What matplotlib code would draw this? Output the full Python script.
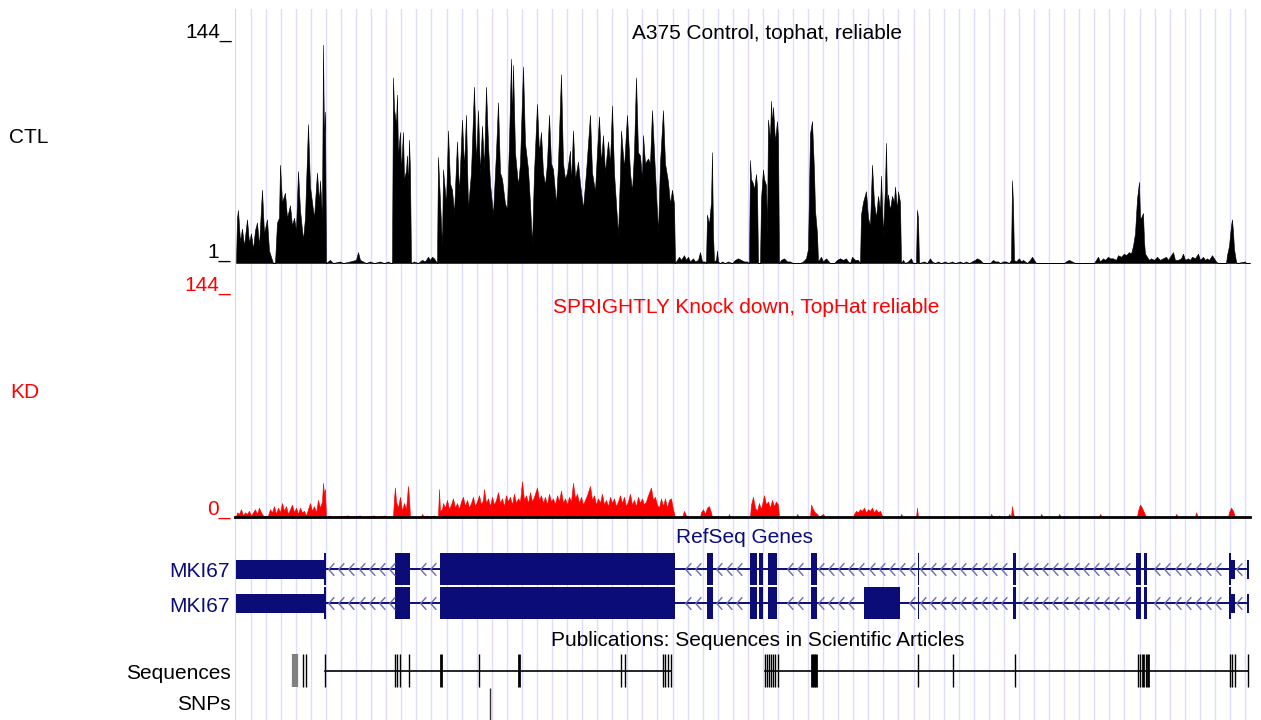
import numpy as np
import matplotlib

matplotlib.use("Agg")
import matplotlib.pyplot as plt
from matplotlib.path import Path

plt.rcParams['font.family'] = ['Liberation Sans', 'DejaVu Sans']

# --- coverage, CTL (position, reads) ---
ctl_pts = [
    (236, 1), (237, 30), (238, 35), (240, 15), (242, 23), (244, 12), (247, 29), (249, 14),
    (251, 20), (253, 10), (255, 22), (257, 27), (259, 12), (262, 48), (264, 20), (267, 29),
    (269, 9), (271, 5), (273, 1), (275, 1), (277, 27), (279, 30), (280, 64), (282, 40),
    (285, 46), (287, 30), (290, 38), (292, 25), (294, 30), (296, 22), (298, 60), (300, 35),
    (303, 16), (305, 30), (307, 70), (308, 90), (310, 50), (312, 40), (314, 30), (317, 59),
    (319, 40), (320, 54), (322, 30), (323, 141), (324, 80), (325, 98), (326, 1),
    (330, 3), (333, 1), (340, 2), (343, 1), (350, 2), (356, 3), (358, 8), (360, 3), (363, 2),
    (366, 1), (370, 2), (374, 1), (380, 2), (384, 1), (388, 2), (391, 1),
    (392, 1), (393, 120), (394, 100), (396, 90), (397, 109), (398, 70), (400, 85), (401, 60),
    (403, 85), (404, 55), (406, 60), (407, 70), (408, 50), (409, 80), (410, 60), (411, 1),
    (414, 2), (418, 1), (422, 3), (425, 2), (428, 5), (430, 3), (432, 5), (434, 4), (436, 2),
    (437, 1),
    (438, 69), (442, 12), (443, 61), (446, 39), (448, 86), (450, 52), (452, 48), (454, 33),
    (457, 79), (459, 46), (462, 93), (464, 62), (466, 96), (468, 36), (471, 59), (474, 114),
    (476, 65), (478, 99), (480, 59), (482, 89), (484, 62), (486, 114), (488, 77), (490, 52),
    (493, 32), (496, 72), (498, 104), (500, 59), (502, 55), (505, 39), (507, 36), (509, 78),
    (511, 132), (512, 91), (513, 128), (515, 72), (518, 51), (520, 65), (523, 127), (525, 78),
    (528, 61), (530, 39), (532, 13), (534, 59), (537, 103), (539, 72), (541, 85), (543, 59),
    (545, 51), (547, 65), (549, 96), (551, 65), (553, 61), (556, 39), (558, 65), (561, 122),
    (563, 65), (565, 55), (567, 59), (570, 73), (571, 52), (573, 86), (575, 55), (578, 66),
    (580, 52), (583, 36), (586, 59), (590, 96), (592, 59), (595, 47), (597, 72), (599, 95),
    (601, 65), (603, 83), (605, 59), (608, 79), (610, 65), (612, 102), (614, 59), (616, 39),
    (618, 19), (620, 59), (621, 86), (624, 62), (627, 96), (630, 59), (632, 47), (634, 72),
    (636, 120), (638, 72), (640, 70), (642, 55), (643, 83), (645, 65), (648, 68), (650, 65),
    (652, 99), (654, 72), (656, 46), (658, 21), (660, 65), (663, 99), (665, 65), (668, 53),
    (670, 39), (672, 48), (674, 39), (675, 1),
    (677, 3), (679, 5), (681, 3), (684, 6), (686, 3), (688, 5), (690, 2), (693, 4), (695, 2),
    (698, 3), (700, 8), (702, 2), (705, 2), (706, 1), (707, 32), (709, 26), (711, 40),
    (712, 72), (713, 20), (714, 2), (716, 3), (717, 9), (718, 2), (720, 1), (722, 2), (725, 1),
    (728, 2), (732, 1), (735, 3), (738, 4), (741, 3), (744, 2), (747, 2), (749, 1),
    (750, 67), (751, 55), (753, 52), (754, 48), (756, 58), (757, 50), (758, 1), (760, 1),
    (761, 42), (763, 61), (764, 55), (766, 51), (767, 20), (768, 93), (770, 80), (771, 105),
    (772, 90), (773, 101), (775, 79), (777, 92), (778, 82), (779, 1),
    (781, 3), (784, 4), (787, 2), (790, 2), (793, 1), (797, 1), (800, 1), (803, 2), (806, 4),
    (808, 10), (810, 84), (812, 92), (814, 60), (815, 35), (817, 20), (818, 2),
    (821, 5), (823, 2), (826, 4), (830, 1), (834, 1), (837, 3), (840, 4), (843, 3), (846, 4),
    (848, 2), (850, 1), (852, 5), (855, 3), (858, 3), (860, 1),
    (861, 32), (863, 40), (866, 47), (868, 30), (870, 25), (872, 64), (874, 40), (876, 30),
    (878, 44), (880, 35), (881, 57), (883, 19), (885, 50), (886, 78), (887, 40), (888, 45),
    (890, 35), (892, 44), (894, 40), (895, 50), (897, 35), (898, 47), (900, 40), (901, 1),
    (903, 3), (905, 1), (908, 2), (911, 4), (913, 1), (916, 1), (917, 35), (918, 30), (919, 1),
    (924, 2), (927, 1), (930, 4), (932, 2), (935, 1), (938, 2), (941, 1), (945, 2), (948, 1),
    (952, 2), (955, 1), (960, 2), (963, 1), (966, 2), (969, 1), (972, 2), (975, 3), (977, 4),
    (980, 3), (983, 1), (990, 1), (993, 3), (995, 2), (998, 2), (1000, 1), (1003, 2),
    (1006, 2), (1009, 1), (1011, 3), (1012, 54), (1013, 39), (1014, 3), (1016, 2), (1019, 4),
    (1021, 2), (1023, 3), (1025, 2), (1027, 1), (1030, 3), (1032, 5), (1034, 3), (1036, 1),
    (1040, 1), (1046, 1), (1050, 1), (1055, 1), (1058, 1), (1064, 1), (1066, 2), (1069, 3),
    (1072, 2), (1075, 1), (1094, 1), (1096, 3), (1098, 5), (1100, 2), (1103, 4), (1105, 3),
    (1108, 5), (1110, 4), (1113, 4), (1116, 3), (1118, 6), (1121, 5), (1124, 7), (1126, 6),
    (1129, 8), (1131, 7), (1133, 12), (1135, 20), (1137, 42), (1139, 53), (1140, 30),
    (1141, 30), (1143, 33), (1144, 15), (1145, 7), (1147, 5), (1149, 3), (1151, 4), (1154, 3),
    (1157, 5), (1160, 3), (1163, 4), (1166, 5), (1168, 3), (1171, 6), (1173, 8), (1175, 3),
    (1178, 3), (1181, 4), (1183, 7), (1185, 3), (1188, 4), (1190, 3), (1192, 5), (1195, 4),
    (1198, 7), (1200, 3), (1203, 5), (1205, 3), (1207, 4), (1209, 3), (1212, 6), (1214, 4),
    (1216, 2), (1218, 1), (1226, 1), (1227, 6), (1229, 12), (1231, 25), (1232, 29),
    (1233, 21), (1234, 10), (1236, 2), (1237, 1), (1245, 2), (1246, 1), (1250, 1),
]

# --- coverage, KD (position, reads) ---
kd_pts = [
    (236, 0), (237, 3), (239, 2), (241, 5), (243, 1), (245, 3), (247, 2), (249, 4), (251, 1),
    (253, 3), (255, 5), (257, 2), (259, 6), (261, 3), (263, 1), (266, 0), (268, 1), (270, 5),
    (272, 3), (274, 7), (276, 2), (278, 6), (280, 3), (282, 9), (284, 4), (286, 7), (288, 2),
    (290, 5), (292, 8), (294, 3), (296, 6), (298, 2), (300, 6), (302, 3), (304, 4), (306, 1),
    (308, 5), (310, 9), (312, 4), (314, 7), (316, 3), (318, 11), (320, 6), (322, 10),
    (323, 22), (324, 15), (325, 18), (326, 0),
    (330, 1), (332, 0), (348, 1), (350, 0), (360, 1), (362, 0), (374, 1), (376, 0), (385, 1),
    (387, 0), (393, 0), (394, 12), (395, 19), (396, 10), (398, 6), (400, 13), (402, 4),
    (404, 9), (406, 5), (408, 20), (409, 12), (410, 0), (421, 0), (422, 2), (424, 0),
    (427, 1), (429, 0), (434, 1), (436, 0),
    (438, 0), (439, 18), (440, 4), (442, 5), (443, 9), (445, 6), (447, 11), (449, 5), (451, 8),
    (453, 12), (455, 6), (457, 9), (459, 5), (461, 10), (463, 13), (465, 7), (467, 11),
    (469, 6), (471, 9), (473, 13), (475, 7), (477, 10), (479, 14), (481, 8), (483, 11),
    (484, 18), (486, 9), (488, 12), (490, 7), (492, 13), (494, 8), (496, 11), (498, 16),
    (500, 9), (502, 12), (504, 7), (506, 14), (508, 10), (510, 13), (512, 8), (514, 15),
    (516, 9), (518, 12), (520, 10), (522, 23), (524, 11), (526, 14), (528, 9), (530, 16),
    (532, 10), (534, 13), (537, 19), (539, 11), (541, 14), (543, 9), (545, 13), (547, 8),
    (549, 15), (551, 10), (553, 12), (555, 8), (557, 14), (559, 10), (561, 17), (563, 9),
    (565, 12), (567, 8), (569, 13), (571, 10), (573, 22), (575, 12), (577, 15), (579, 9),
    (581, 13), (583, 8), (585, 11), (587, 14), (590, 20), (592, 11), (594, 14), (596, 8),
    (598, 12), (600, 9), (602, 15), (604, 8), (606, 11), (608, 7), (610, 13), (612, 9),
    (614, 12), (616, 7), (618, 10), (620, 14), (622, 9), (624, 13), (626, 7), (628, 10),
    (630, 15), (632, 8), (634, 11), (636, 7), (638, 13), (640, 9), (642, 12), (644, 8),
    (646, 10), (648, 14), (651, 19), (653, 11), (655, 13), (657, 8), (659, 6), (661, 12),
    (663, 7), (665, 12), (667, 6), (669, 11), (671, 12), (673, 5), (675, 0),
    (682, 0), (684, 4), (686, 1), (688, 0), (700, 0), (701, 3), (703, 5), (705, 2), (707, 6),
    (709, 7), (711, 3), (712, 0), (728, 0), (729, 2), (730, 0),
    (750, 0), (751, 8), (753, 13), (755, 6), (757, 4), (759, 9), (761, 5), (763, 11),
    (764, 14), (766, 8), (768, 10), (770, 6), (772, 11), (774, 7), (776, 10), (778, 8),
    (779, 0), (796, 0), (797, 2), (799, 0), (810, 0), (811, 8), (813, 5), (815, 3), (817, 2),
    (819, 0), (823, 2), (825, 0),
    (853, 0), (854, 2), (856, 4), (858, 3), (860, 5), (862, 4), (864, 6), (866, 3), (868, 5),
    (870, 4), (872, 6), (874, 3), (876, 5), (878, 3), (880, 4), (882, 1), (884, 0), (900, 0),
    (901, 2), (903, 0), (916, 0), (917, 6), (918, 0),
    (990, 0), (991, 2), (993, 0), (998, 0), (999, 1), (1001, 0), (1008, 0), (1009, 2),
    (1011, 0), (1012, 7), (1013, 3), (1014, 0), (1040, 0), (1041, 2), (1043, 0), (1058, 0),
    (1059, 2), (1061, 0), (1099, 0), (1100, 2), (1102, 0),
    (1137, 0), (1138, 4), (1140, 8), (1142, 6), (1144, 3), (1146, 0), (1175, 0), (1176, 2),
    (1178, 0), (1195, 0), (1196, 3), (1198, 0), (1228, 0), (1229, 3), (1231, 6), (1233, 4),
    (1235, 0),
]

# --- RefSeq MKI67 models (start, end) ---
gene_utr = [(236.5, 325), (1231, 1235), (1247, 1249.5)]
gene_cds = [(324, 326), (395.5, 410), (440.5, 675), (707, 713), (750, 757), (759, 763),
            (768, 777), (811, 817), (917.8, 919), (1013, 1016), (1136, 1141), (1144, 1147),
            (1229.5, 1231)]
alt_exon = [(864, 900)]
intron_span = (325, 1248)

# --- publications / SNPs ---
pub_segments = [(293, 297.5), (325, 671), (765, 1248)]
pub_ticks = [303, 306.5, 325, 395, 397, 400, 409.5, 479, 621, 625, 663, 665, 668, 671,
             765, 767, 769, 771, 773, 775, 778, 918, 953, 1015, 1138, 1140, 1146,
             1230, 1232, 1235, 1248]
pub_thick = [441, 519, 812, 814, 816, 1143, 1148]
pub_gray = [293.5, 295, 297.5]
snp_pos = [489.6]

W, H = 1261, 720
X0, X1 = 235, 1250
NAVY = "#0c0c78"
CHEV = "#6a6ab4"

fig = plt.figure(figsize=(W / 100, H / 100), dpi=100)


def track_ax(top, bottom, ylim, z=1):
    ax = fig.add_axes([X0 / W, 1 - bottom / H, (X1 - X0) / W, (bottom - top) / H], zorder=z)
    ax.set_xlim(X0, X1)
    ax.set_ylim(*ylim)
    ax.axis("off")
    ax.patch.set_alpha(0)
    return ax


def label(px, py, s, color="black", ha="right"):
    fig.text(px / W, 1 - py / H, s, color=color, ha=ha, va="baseline", fontsize=15)


# guide lines
bg = track_ax(9, 720, (0, 1), z=0)
for gx in np.arange(250.7, X1, 15.065):
    bg.axvline(gx, color="#dcdcff", lw=1)
bg.axvline(235.5, color="#ffc8c8", lw=1.5)

# CTL track
cx, cv = np.array(ctl_pts, dtype=float).T
ctl = track_ax(40, 263, (1, 144))
ctl.fill_between(cx, 1, cv, facecolor="black", edgecolor="black", lw=0.4)

# KD track
kx, kv = np.array(kd_pts, dtype=float).T
kd = track_ax(293, 517, (0, 144))
kd.fill_between(kx, 0, kv, facecolor="red", edgecolor="red", lw=0.4)
kd.axhline(0, color="black", lw=2, clip_on=False)

# annotation tracks (pixel rows)
ann = track_ax(520, 720, (720, 520))
chev = Path([(0.45, 1.0), (-0.45, 0.0), (0.45, -1.0)])
for yc, extra in [(569, []), (603, alt_exon)]:
    exons = gene_cds + extra
    ann.plot(intron_span, [yc, yc], color=NAVY, lw=1.4)
    xs = [x for x in np.arange(331, 1245, 10.2)
          if not any(a - 3 < x < b + 3 for a, b in exons + gene_utr)]
    ann.plot(xs, [yc] * len(xs), ls="none", marker=chev, ms=9, mfc="none", mec=CHEV, mew=1)
    ann.broken_barh([(a, b - a) for a, b in gene_utr], (yc - 9.5, 19), facecolors=NAVY)
    ann.broken_barh([(a, b - a) for a, b in exons], (yc - 16, 32), facecolors=NAVY)

for a, b in pub_segments:
    ann.plot([a, b], [671, 671], color="black", lw=1.2)
ann.vlines(pub_ticks, 654, 687, colors="black", lw=1)
ann.vlines(pub_thick, 654, 687, colors="black", lw=2)
ann.vlines(pub_gray, 654, 687, colors="#808080", lw=1.6)
ann.vlines(snp_pos, 688, 720, colors="#333333", lw=1)

# text
label(767, 39, "A375 Control, tophat, reliable", ha="center")
label(232, 37.5, "144_")
label(231, 258, "1_")
label(9, 143, "CTL", ha="left")
label(746, 313, "SPRIGHTLY Knock down, TopHat reliable", color="red", ha="center")
label(231, 291, "144_", color="red")
label(231, 515, "0_", color="red")
label(10, 398, "KD", color="red", ha="left")
label(744, 543, "RefSeq Genes", color=NAVY, ha="center")
label(230, 577, "MKI67", color=NAVY)
label(230, 612, "MKI67", color=NAVY)
label(758, 646, "Publications: Sequences in Scientific Articles", ha="center")
label(231, 679, "Sequences")
label(231, 710, "SNPs")

fig.savefig("out.png", dpi=100)
